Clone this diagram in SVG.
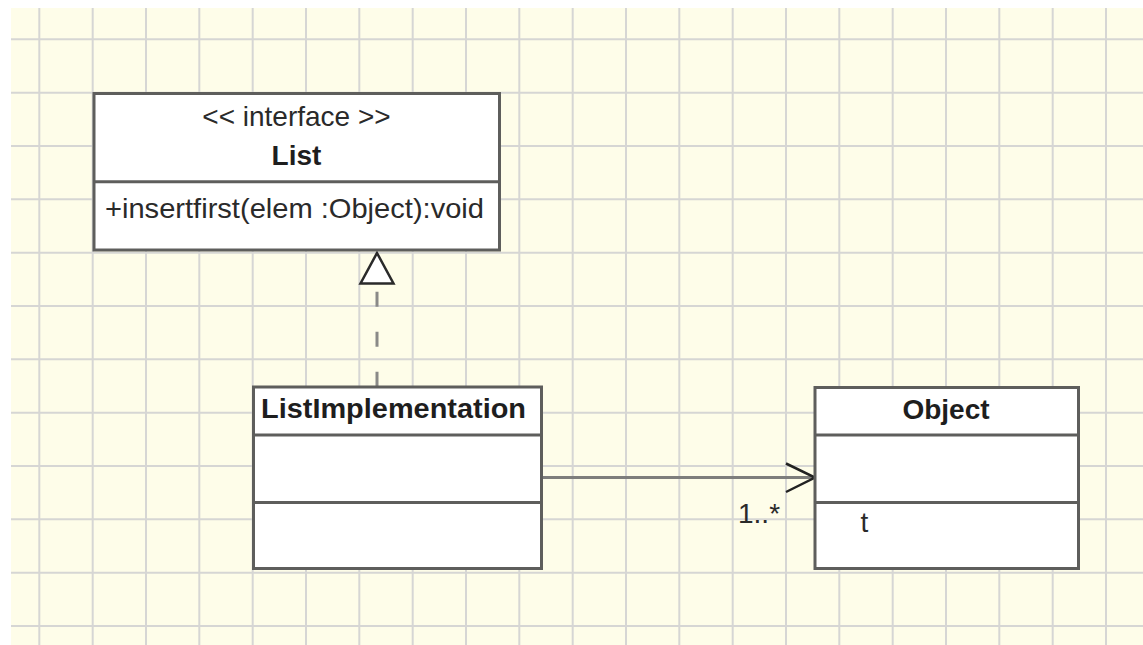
<svg xmlns="http://www.w3.org/2000/svg" width="1143" height="645" viewBox="0 0 1143 645">
  <defs>
    <style>
      .grid { stroke: #d6d6d4; stroke-width: 2; fill: none; }
      .box { fill: #ffffff; stroke: #5e5e5c; stroke-width: 3; }
      .div { stroke: #5e5e5c; stroke-width: 3; }
      .t { font-family: "Liberation Sans", Arial, sans-serif; font-size: 28px; fill: #2a2a2a; }
      .b { font-weight: bold; fill: #1e1e1e; }
      .m { text-anchor: middle; }
    </style>
  </defs>
  <rect x="0" y="0" width="1143" height="645" fill="#ffffff"/>
  <rect x="11" y="8" width="1132" height="637" fill="#fefde9"/>
  <g id="grid" class="grid">
    <path d="M39.3 8V645M92.7 8V645M146 8V645M199.3 8V645M252.7 8V645M306 8V645M359.3 8V645M412.7 8V645M466 8V645M519.3 8V645M572.7 8V645M626 8V645M679.3 8V645M732.7 8V645M786 8V645M839.3 8V645M892.7 8V645M946 8V645M999.3 8V645M1052.7 8V645M1106 8V645"/>
    <path d="M11 39.3H1143M11 92.7H1143M11 146H1143M11 199.3H1143M11 252.7H1143M11 306H1143M11 359.3H1143M11 412.7H1143M11 466H1143M11 519.3H1143M11 572.7H1143M11 626H1143"/>
  </g>

  <g id="connectors">
    <line x1="377" y1="386.7" x2="377" y2="284" stroke="#8a8a88" stroke-width="3" stroke-dasharray="15 25"/>
    <polygon points="377,253 393.5,283.5 360.5,283.5" fill="#ffffff" stroke="#2a2a2a" stroke-width="2.5" stroke-linejoin="miter"/>
    <line x1="542" y1="477.5" x2="814" y2="477.5" stroke="#7e7e7c" stroke-width="3"/>
    <polyline points="786,463.5 815,477.5 786,492" fill="none" stroke="#222222" stroke-width="2.5"/>
    <text class="t" x="738" y="523" font-size="26">1..*</text>
  </g>

  <g id="List">
    <rect class="box" x="94" y="93.5" width="405.5" height="156.5"/>
    <line class="div" x1="94" y1="181.7" x2="499.5" y2="181.7"/>
    <text class="t m" x="296.5" y="125.5">&lt;&lt; interface &gt;&gt;</text>
    <text class="t b m" x="296.5" y="165">List</text>
    <text class="t" x="105" y="218" textLength="379" lengthAdjust="spacingAndGlyphs">+insertfirst(elem :Object):void</text>
  </g>

  <g id="ListImplementation">
    <rect class="box" x="253.5" y="387" width="288" height="181.5"/>
    <line class="div" x1="253.5" y1="435" x2="541.5" y2="435"/>
    <line class="div" x1="253.5" y1="502.5" x2="541.5" y2="502.5"/>
    <text class="t b" x="261" y="418.3" textLength="265" lengthAdjust="spacingAndGlyphs">ListImplementation</text>
  </g>

  <g id="Object">
    <rect class="box" x="815" y="387.5" width="263.5" height="181"/>
    <line class="div" x1="815" y1="435" x2="1078.5" y2="435"/>
    <line class="div" x1="815" y1="502.5" x2="1078.5" y2="502.5"/>
    <text class="t b m" x="946" y="418.5">Object</text>
    <text class="t" x="860.5" y="531.5">t</text>
  </g>
</svg>
